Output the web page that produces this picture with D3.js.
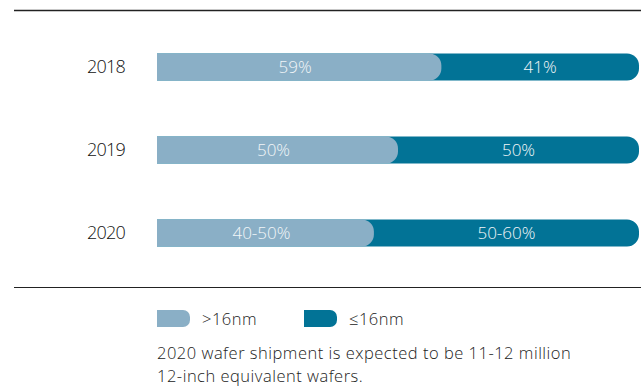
<!DOCTYPE html>
<html>
<head>
<meta charset="utf-8">
<script src="https://cdn.jsdelivr.net/npm/d3@7"></script>
<style>
  body { margin: 0; background: #fff; }
  text { font-family: "Open Sans", "Noto Sans", sans-serif; font-weight: 300; }
</style>
</head>
<body>
<div id="root"></div>
<script>
// data
const years = ["2018", "2019", "2020"];
const above16 = [59, 50, 45];        // >16nm share (2020 shown as range)
const labelsAbove = ["59%", "50%", "40-50%"];
const labelsBelow = ["41%", "50%", "50-60%"];
const legendNames = [">16nm", "≤16nm"];
const note = ["2020 wafer shipment is expected to be 11-12 million", "12-inch equivalent wafers."];

const W = 641, H = 389;
const light = "#8aafc6", dark = "#027396";
const barH = 27;

const svg = d3.select("#root").append("svg").attr("width", W).attr("height", H);

let x = d3.scaleLinear().domain([0, 100]).range([157, 639]);
let y = d3.scalePoint().domain(years).range([67, 233]);

// rect with rounded right end
let roundRight = (x0, x1, y0, h, r) => {
  return `M${x0},${y0}H${x1 - r}A${r},${r} 0 0 1 ${x1},${y0 + r}V${y0 + h - r}A${r},${r} 0 0 1 ${x1 - r},${y0 + h}H${x0}Z`;
};

// rules
svg.append("line").attr("x1", 14).attr("x2", W).attr("y1", 10.5).attr("y2", 10.5)
  .attr("stroke", "#222").attr("stroke-width", 1.5);
svg.append("line").attr("x1", 14).attr("x2", W).attr("y1", 287.5).attr("y2", 287.5)
  .attr("stroke", "#222").attr("stroke-width", 1.2);

const rows = svg.append("g").selectAll("g").data(years).join("g");
const r = 12;

rows.append("path")
  .attr("fill", dark)
  .attr("d", d => roundRight(x(0), x(100), y(d) - barH / 2, barH, r));
rows.append("path")
  .attr("fill", light)
  .attr("d", (d, i) => roundRight(x(0), x(above16[i]), y(d) - barH / 2, barH, r));

rows.append("text")
  .attr("x", 125).attr("y", d => y(d) + 6)
  .attr("text-anchor", "end")
  .attr("font-size", 18).attr("letter-spacing", -0.8).attr("fill", "#111")
  .text(d => d);

rows.append("text")
  .attr("x", (d, i) => (x(0) + x(above16[i])) / 2 - 4)
  .attr("y", d => y(d) + 6)
  .attr("text-anchor", "middle")
  .attr("font-size", 17).attr("fill", "#f2f6f8")
  .text((d, i) => labelsAbove[i]);

rows.append("text")
  .attr("x", (d, i) => (x(above16[i]) + x(100)) / 2)
  .attr("y", d => y(d) + 6)
  .attr("text-anchor", "middle")
  .attr("font-size", 17).attr("fill", "#f2f6f8")
  .text((d, i) => labelsBelow[i]);

// legend
const legend = svg.append("g").selectAll("g").data(legendNames).join("g")
  .attr("transform", (d, i) => `translate(${157 + i * 147},310)`);
legend.append("path")
  .attr("fill", (d, i) => i == 0 ? light : dark)
  .attr("d", roundRight(0, 33, 0, 17, 7));
legend.append("text")
  .attr("x", 45).attr("y", 14.5)
  .attr("font-size", 16.5).attr("letter-spacing", 0.5).attr("fill", "#222")
  .text(d => d);

// note
svg.append("g").selectAll("text").data(note).join("text")
  .attr("x", 157).attr("y", (d, i) => 359 + i * 23)
  .attr("font-size", 16.5).attr("letter-spacing", 0.5).attr("fill", "#222")
  .text(d => d);
</script>
</body>
</html>
